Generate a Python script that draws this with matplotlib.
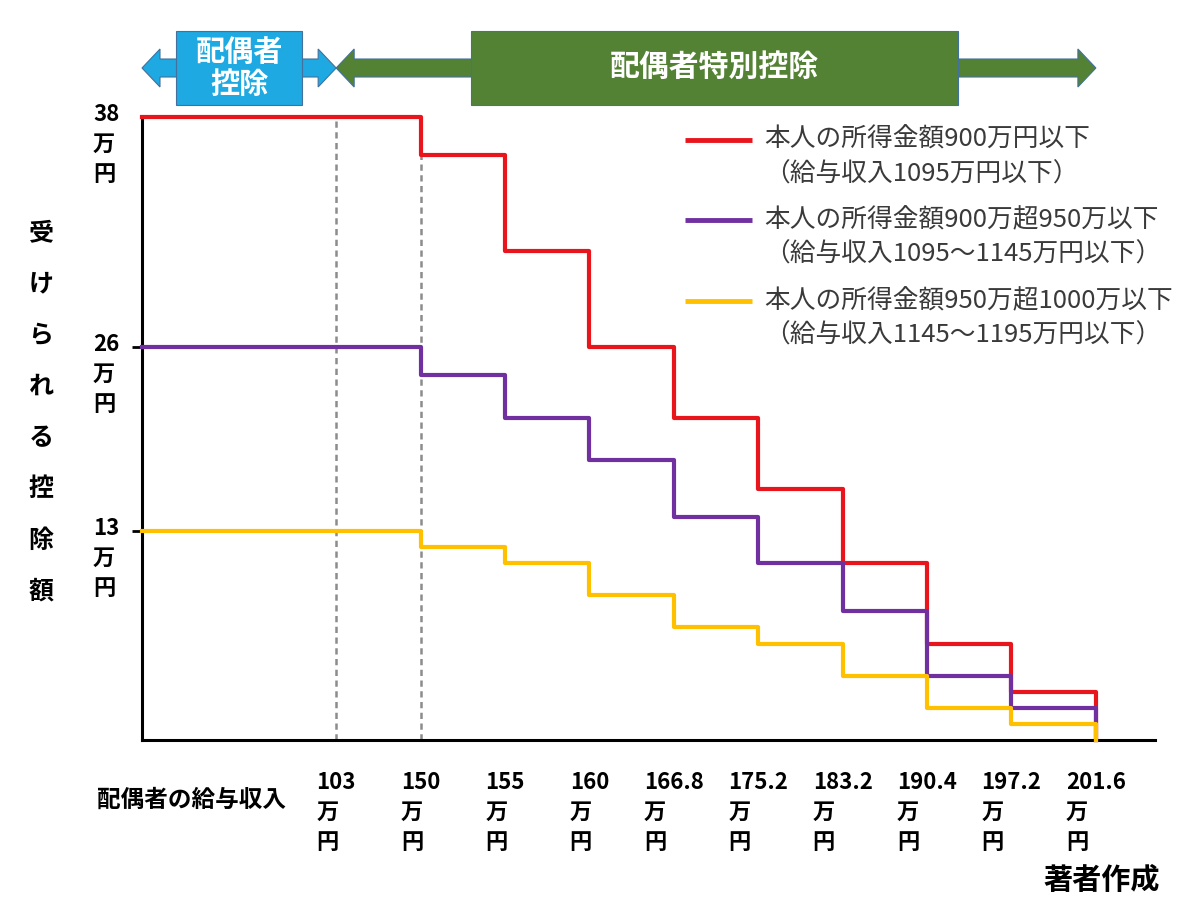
import numpy as np
import matplotlib
matplotlib.use("Agg")
import matplotlib.pyplot as plt
from matplotlib.patches import Polygon, Rectangle

plt.rcParams['font.family'] = ['Noto Sans CJK JP', 'DejaVu Sans']

# data
income_labels = ['103', '150', '155', '160', '166.8', '175.2', '183.2', '190.4', '197.2', '201.6']
deduction_900 = [38, 36, 31, 26, 21, 16, 11, 6, 3, 0]
deduction_950 = [26, 24, 21, 18, 14, 11, 8, 4, 2, 0]
deduction_1000 = [13, 12, 11, 9, 7, 6, 4, 2, 1, 0]
y_ticks = [38, 26, 13]
series = [deduction_900, deduction_950, deduction_1000]
series_colors = ['#E8161C', '#7030A0', '#FFC000']
legend_lines = [
    ('本人の所得金額900万円以下', '（給与収入1095万円以下）'),
    ('本人の所得金額900万超950万以下', '（給与収入1095～1145万円以下）'),
    ('本人の所得金額950万超1000万以下', '（給与収入1145～1195万円以下）'),
]

# the y axis in the picture is not evenly spaced between its labels
y_knots = [0, 13, 26, 38]
y_px = [0, 209, 393, 623]
def fwd(v):
    return np.interp(v, y_knots, y_px)
def inv(p):
    return np.interp(p, y_px, y_knots)

W, H = 1200, 897
fig = plt.figure(figsize=(W / 100, H / 100), dpi=100)
ax = fig.add_axes([142 / W, 1 - 740 / H, (1155 - 142) / W, (740 - 117) / H])
ax.set_yscale('function', functions=(fwd, inv))

x_origin = -2.3
tick_pos = np.arange(len(income_labels))
step_x = np.r_[x_origin, tick_pos[1:]]

ax.vlines(tick_pos[:2], 0, 38, colors='#8C8C8C', linestyles=(0, (2.5, 1.8)), lw=1.8, zorder=1)
for vals, col in zip(series, series_colors):
    ax.step(step_x, vals, where='post', color=col, lw=3, clip_on=False, zorder=3)

ax.set_xlim(x_origin, 9.7)
ax.set_ylim(0, 38)
for s in ['top', 'right']:
    ax.spines[s].set_visible(False)
for s in ['left', 'bottom']:
    ax.spines[s].set_linewidth(2.2)
    ax.spines[s].set_color('black')

ax.set_xticks(tick_pos, [l + '\n万\n円' for l in income_labels])
ax.tick_params(axis='x', length=0, pad=22, labelsize=16)
for t in ax.get_xticklabels():
    t.set_fontweight('bold')
    t.set_multialignment('left')
    t.set_linespacing(1.4)
ax.set_yticks([13, 26], ['', ''])
ax.tick_params(axis='y', length=7, width=2)

# overlay in figure pixels for decorations
ov = fig.add_axes([0, 0, 1, 1], zorder=5)
ov.set_xlim(0, W)
ov.set_ylim(H, 0)
ov.axis('off')
ov.patch.set_alpha(0)

def px_x(v):
    return ax.transData.transform((v, 0))[0]
def px_y(v):
    return H - ax.transData.transform((0, v))[1]

# y tick labels
for v in y_ticks:
    ov.text(93, px_y(v) - 14, f'{v}\n万\n円', ha='left', va='top', fontsize=16,
            fontweight='bold', linespacing=1.4)

# vertical y label
ylab = '受けられる控除額'
for ch, yy in zip(ylab, np.linspace(233, 592, len(ylab))):
    ov.text(41, yy, ch, ha='center', va='center', fontsize=18, fontweight='bold')

ov.text(286, 800, '配偶者の給与収入', ha='right', va='center', fontsize=17, fontweight='bold')
ov.text(1160, 880, '著者作成', ha='right', va='center', fontsize=21, fontweight='bold')

# legend
for (l1, l2), col, yy in zip(legend_lines, series_colors, [140, 220, 301]):
    ov.plot([685, 752], [yy, yy], color=col, lw=3.5, solid_capstyle='butt')
    ov.text(764, yy, l1, ha='left', va='center', fontsize=18.5, color='#3A3A3A')
    ov.text(764, yy + 35, l2, ha='left', va='center', fontsize=18.5, color='#3A3A3A')

# top arrows
def double_arrow(x0, x1, yc, color, head=18, hh=19, sh=9):
    pts = [(x0, yc), (x0 + head, yc - hh), (x0 + head, yc - sh), (x1 - head, yc - sh),
           (x1 - head, yc - hh), (x1, yc), (x1 - head, yc + hh), (x1 - head, yc + sh),
           (x0 + head, yc + sh), (x0 + head, yc + hh)]
    ov.add_patch(Polygon(pts, closed=True, facecolor=color, edgecolor='#41719C', lw=0.8))

blue = '#1EA9E2'
green = '#548235'
xa = px_x(x_origin)
xb = px_x(0)
xc = px_x(9)
double_arrow(xa, xb, 68, blue)
double_arrow(xb, xc, 68, green)
ov.add_patch(Rectangle(((xa + xb) / 2 - 63, 31), 126, 74, facecolor=blue, edgecolor='#41719C', lw=0.8))
ov.add_patch(Rectangle((471, 31), 487, 74, facecolor=green, edgecolor='#41719C', lw=0.8))
ov.text((xa + xb) / 2, 68, '配偶者\n控除', ha='center', va='center', color='white',
        fontsize=21, fontweight='bold', linespacing=1.1)
ov.text(714, 67, '配偶者特別控除', ha='center', va='center', color='white',
        fontsize=21.5, fontweight='bold')

fig.savefig('out.png', dpi=100)
